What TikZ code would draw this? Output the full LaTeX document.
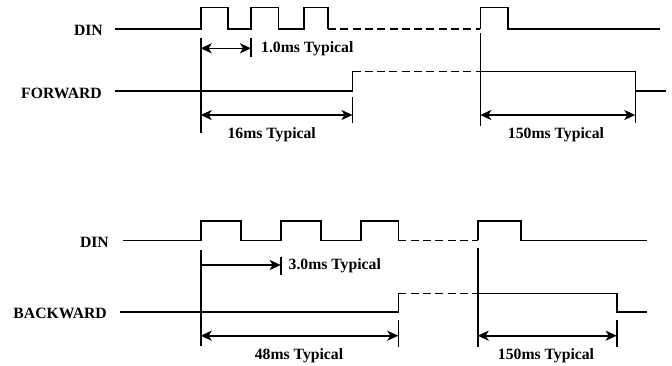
\documentclass[tikz,border=0pt]{standalone}
\usepackage{fontspec}
\setmainfont{Liberation Serif}
\usetikzlibrary{arrows.meta}
\begin{document}
\begin{tikzpicture}[x=1pt,y=-1pt,
  sig/.style={line width=1.6pt,line join=miter},
  dsh/.style={line width=1.6pt,dash pattern=on 8pt off 4.3pt},
  dim/.style={line width=1.6pt,{Stealth[length=11pt,width=10pt,inset=3pt]}-{Stealth[length=11pt,width=10pt,inset=3pt]}},
  dimr/.style={line width=1.6pt,-{Stealth[length=11pt,width=10pt,inset=3pt]}},
  tick/.style={line width=1.6pt},
  lab/.style={font=\fontsize{15.7}{17}\selectfont\bfseries,inner sep=0pt},
]
\useasboundingbox (0,0) rectangle (672,365);
% ---------- top section ----------
\node[lab,anchor=east] (din1) at (103,30) {DIN};
\node[lab,anchor=east] (fwd) at (102,93) {FORWARD};
\coordinate (d1s) at (115,29);
\draw[sig] (d1s) -- (200.7,29) -- (200.7,7.5) -- (227.7,7.5) -- (227.7,29) -- (251,29) -- (251,7.5) -- (278.3,7.5) -- (278.3,29) -- (304,29) -- (304,7.5) -- (328,7.5) -- (328,29) coordinate (d1a);
\draw[dsh] (d1a) -- (480.3,29) coordinate (d1b);
\draw[sig] (d1b) -- (480.3,7.5) -- (507.7,7.5) -- (507.7,29) -- (660,29) coordinate (d1e);
\coordinate (f1s) at (115,90.7);
\draw[sig] (f1s) -- (352.5,90.7) -- (352.5,71.3) coordinate (f1a);
\draw[dsh] (f1a) -- (480.3,71.3) coordinate (f1b);
\draw[sig] (f1b) -- (635.3,71.3) -- (635.3,90.7) -- (666,90.7) coordinate (f1e);
% verticals & ticks
\draw[tick] (200.7,37.7) coordinate (v1t) -- (200.7,133) coordinate (v1b);
\draw[tick] (251,37.7) coordinate (t1t) -- (251,56.7) coordinate (t1b);
\draw[tick] (352.5,96.7) coordinate (t2t) -- (352.5,123) coordinate (t2b);
\draw[tick] (480.3,33) coordinate (v2t) -- (480.3,126) coordinate (v2b);
\draw[tick] (635.3,92) coordinate (t3t) -- (635.3,123) coordinate (t3b);
% dimensions
\coordinate (a1l) at (200.7,48.3); \coordinate (a1r) at (251,48.3);
\draw[dim] (a1l) -- (a1r);
\node[lab,anchor=west] (l1) at (261,49) {1.0ms Typical};
\coordinate (a2l) at (200.7,115); \coordinate (a2r) at (352.5,115);
\draw[dim] (a2l) -- (a2r);
\node[lab] (l2) at (271.7,134.5) {16ms Typical};
\coordinate (a3l) at (480.3,115); \coordinate (a3r) at (635.3,115);
\draw[dim] (a3l) -- (a3r);
\node[lab] (l3) at (556,134.5) {150ms Typical};
% ---------- bottom section ----------
\node[lab,anchor=east] (din2) at (109,242.5) {DIN};
\node[lab,anchor=east] (bwd) at (107,313) {BACKWARD};
\coordinate (d2s) at (123.3,240.3);
\draw[sig] (d2s) -- (200.7,240.3) -- (200.7,221) -- (240.7,221) -- (240.7,240.3) -- (280.7,240.3) -- (280.7,221) -- (321,221) -- (321,240.3) -- (361,240.3) -- (361,221) -- (398.3,221) -- (398.3,240.3) coordinate (d2a);
\draw[dsh] (d2a) -- (477.7,240.3) coordinate (d2b);
\draw[sig] (d2b) -- (477.7,221) -- (521,221) -- (521,240.3) -- (646.7,240.3) coordinate (d2e);
\coordinate (b2s) at (120,312);
\draw[sig] (b2s) -- (398.3,312) -- (398.3,293.3) coordinate (b2a);
\draw[dsh] (b2a) -- (477.7,293.3) coordinate (b2b);
\draw[sig] (b2b) -- (616.7,293.3) -- (616.7,312) -- (646.7,312) coordinate (b2e);
% verticals & ticks
\draw[tick] (200.7,250) coordinate (v3t) -- (200.7,345.7) coordinate (v3b);
\draw[tick] (280.7,256.7) coordinate (t4t) -- (280.7,275) coordinate (t4b);
\draw[tick] (398.3,320) coordinate (t5t) -- (398.3,346.7) coordinate (t5b);
\draw[tick] (477.7,248.3) coordinate (v4t) -- (477.7,346.7) coordinate (v4b);
\draw[tick] (616.7,320) coordinate (t6t) -- (616.7,346.7) coordinate (t6b);
% dimensions
\coordinate (a4l) at (200.7,265); \coordinate (a4r) at (280.7,265);
\draw[dimr] (a4l) -- (a4r);
\node[lab,anchor=west] (l4) at (288.5,265.5) {3.0ms Typical};
\coordinate (a5l) at (200.7,335.7); \coordinate (a5r) at (398.3,335.7);
\draw[dim] (a5l) -- (a5r);
\node[lab] (l5) at (299,355.5) {48ms Typical};
\coordinate (a6l) at (477.7,335.7); \coordinate (a6r) at (616.7,335.7);
\draw[dim] (a6l) -- (a6r);
\node[lab] (l6) at (546,355.5) {150ms Typical};
\end{tikzpicture}
\end{document}
